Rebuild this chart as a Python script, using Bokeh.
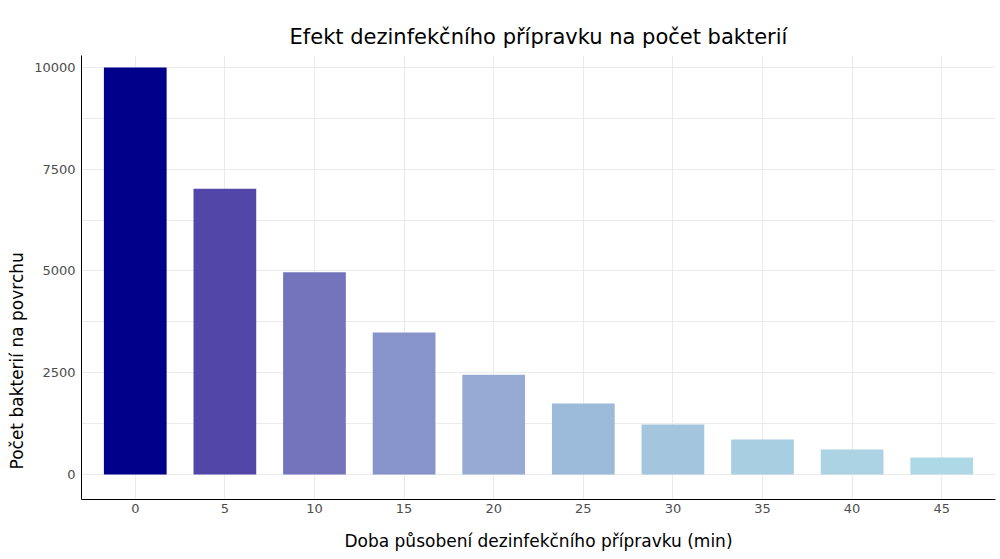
from bokeh.plotting import figure
from bokeh.models import ColumnDataSource, FixedTicker, Range1d, Title, LinearAxis
from bokeh.embed import file_html
from bokeh.resources import INLINE

# Data
minutes = [0, 5, 10, 15, 20, 25, 30, 35, 40, 45]
bacteria = [10000, 7020, 4970, 3490, 2450, 1745, 1230, 860, 612, 420]
bar_colors = ["#00008B", "#5247A8", "#7474BC", "#8794CC", "#97AAD4",
              "#9CBAD9", "#A3C6DE", "#A8CEE2", "#ABD3E4", "#ADD8E6"]
y_ticks = [0, 2500, 5000, 7500, 10000]
y_minor = [1250, 3750, 6250, 8750]

FONT = "DejaVu Sans"

src = ColumnDataSource(dict(x=minutes, top=bacteria, color=bar_colors))

p = figure(width=1000, height=559, output_backend="svg", toolbar_location=None,
           x_range=Range1d(-3, 48), y_range=Range1d(-615, 10295),
           min_border_left=81, min_border_right=5, min_border_top=55,
           min_border_bottom=60,
           title="Efekt dezinfekčního přípravku na počet bakterií")

p.vbar(x="x", top="top", bottom=0, width=3.5, fill_color="color",
       line_color=None, source=src)

# references to the figure's own axes (taken before adding the spacer)
xax = p.below[0]
yax = p.left[0]

# invisible spacer axis between the title and the plot frame
spacer = LinearAxis(ticker=FixedTicker(ticks=[]), axis_line_color=None,
                    major_tick_line_color=None, minor_tick_line_color=None,
                    major_tick_out=11, minor_tick_out=0, major_tick_in=0,
                    minor_tick_in=0, major_label_standoff=0)
p.add_layout(spacer, "above")

p.title.align = "center"
p.title.text_font = FONT
p.title.text_font_size = "21px"
p.title.text_font_style = "normal"
p.title.text_color = "#000000"
p.title.standoff = 14

p.background_fill_color = "white"
p.border_fill_color = "white"
p.outline_line_color = None

xax.ticker = FixedTicker(ticks=minutes)
yax.ticker = FixedTicker(ticks=y_ticks, minor_ticks=y_minor)

for ax in (xax, yax):
    ax.axis_line_color = "black"
    ax.axis_line_width = 1
    ax.major_tick_line_color = None
    ax.minor_tick_line_color = None
    ax.major_tick_out = 0
    ax.minor_tick_out = 0
    ax.major_label_text_font = FONT
    ax.major_label_text_font_size = "13px"
    ax.major_label_text_color = "#4D4D4D"
    ax.axis_label_text_font = FONT
    ax.axis_label_text_font_size = "17px"
    ax.axis_label_text_font_style = "normal"
    ax.axis_label_text_color = "#000000"

xax.axis_label = "Doba působení dezinfekčního přípravku (min)"
xax.major_label_standoff = 4
xax.axis_label_standoff = 15
yax.major_label_standoff = 6

# y-axis title, placed low along the axis as in the original
ytitle = Title(text="Počet bakterií na povrchu", align="left", offset=30,
               text_font=FONT, text_font_size="17px", text_font_style="normal",
               text_color="#000000", standoff=9)
p.add_layout(ytitle, "left")

p.xgrid.grid_line_color = "#EBEBEB"
p.ygrid.grid_line_color = "#EBEBEB"
p.ygrid.minor_grid_line_color = "#EBEBEB"
p.xgrid.grid_line_width = 1
p.ygrid.grid_line_width = 1

open("out.html", "w").write(file_html(p, INLINE))
